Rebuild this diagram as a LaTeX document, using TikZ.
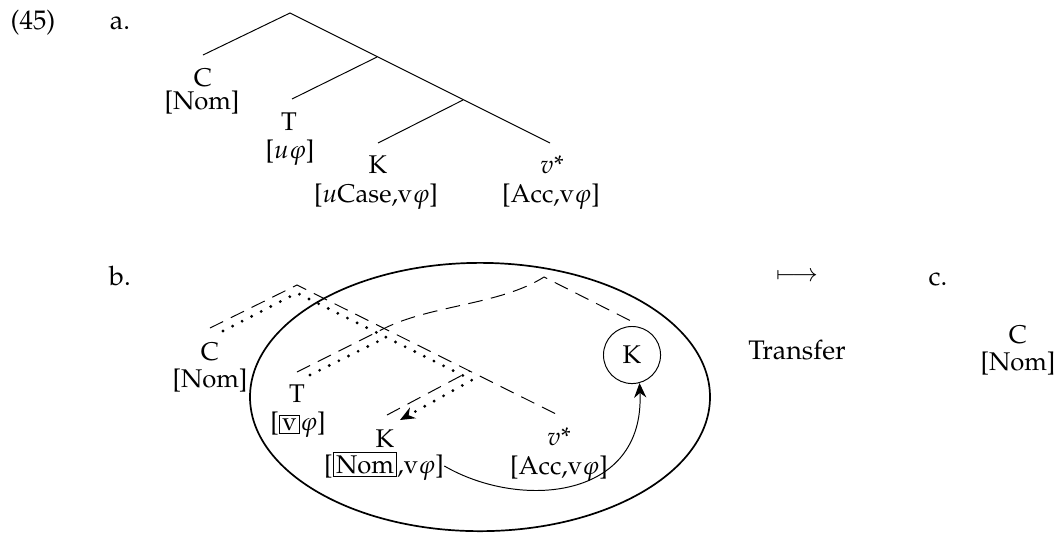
\documentclass[tikz,border=0pt]{standalone}
\usepackage[T1]{fontenc}
\usepackage{mathpazo}
\usetikzlibrary{arrows.meta}

\tikzset{
  lab/.style={anchor=base, inner sep=0pt, font=\fontsize{10.5}{12.6}\selectfont},
  txt/.style={anchor=base, inner sep=0pt, font=\fontsize{11}{13.6}\selectfont},
  moved/.style={dash pattern=on 6pt off 3.5pt},
  agree/.style={line width=1.3pt, line cap=round, dash pattern=on 0pt off 4.4pt},
}

\begin{document}
\begin{tikzpicture}[x=0.41pt,y=-0.41pt]
\useasboundingbox (0,0) rectangle (1057,533);

% example number and sub-labels
\node[txt] (exno) at (33,29) {(45)};
\node[txt] (exa) at (120,29) {a.};
\node[txt] (exb) at (120,285) {b.};
\node[txt] (exc) at (938,285) {c.};

% (a) branch points
\coordinate (aR) at (290,13);
\coordinate (aTP) at (377,57);
\coordinate (aKP) at (463,100);
\coordinate (aCt) at (203,55);
\coordinate (aTt) at (292,99);
\coordinate (aKt) at (378,143);
\coordinate (aVt) at (550,143);

% (a) branches
\draw (aCt) -- (aR) -- (aVt);
\draw (aTt) -- (aTP);
\draw (aKt) -- (aKP);

% (a) leaves
\node[lab] (aC) at (203,86) {C};
\node[lab] (aCf) at (202,109) {[Nom]};
\node[lab] (aT) at (289,130) {T};
\node[lab] (aTf) at (290,158) {[$u\varphi$]};
\node[lab] (aK) at (378,173) {K};
\node[lab] (aKf) at (376,202) {[$u$Case,v$\varphi$]};
\node[lab] (aV) at (552,173) {$v$*};
\node[lab] (aVf) at (551,202) {[Acc,v$\varphi$]};

% (b) the transferred domain
\draw[line width=0.7pt] (480,397) ellipse [x radius=94.3pt, y radius=55pt];

% (b) branch points
\coordinate (bR) at (297,285);
\coordinate (bTP) at (383,329);
\coordinate (bKP) at (470,371);
\coordinate (bNR) at (544,277);
\coordinate (bCt) at (210,328);
\coordinate (bTt) at (297,372);
\coordinate (bKt) at (387,415);
\coordinate (bVt) at (558,415);
\coordinate (bMt) at (633,322);

% (b) dashed branches
\draw[moved] (bCt) -- (bR) -- (bVt);
\draw[moved] (bKt) -- (bKP);
\draw[moved] (bTt) -- (bTP) .. controls (430,305) and (500,305) .. (bNR) -- (bMt);

% (b) agree paths
\draw[agree, -{Stealth[length=6pt,width=5pt]}] (223,331) -- (297,293) -- (472,380) -- (400,420);
\draw[agree] (310,375) -- (385,338);

% (b) leaves
\node[lab] (bC) at (210,360) {C};
\node[lab] (bCf) at (210,387) {[Nom]};
\node[lab] (bT) at (297,402) {T};
\node[lab] (bTf) at (298,430) {[\fboxsep=1pt\fbox{v}$\varphi$]};
\node[lab] (bK) at (385,447) {K};
\node[lab] (bKf) at (384,473) {[\fboxsep=1pt\fbox{Nom},v$\varphi$]};
\node[lab] (bV) at (559,445) {$v$*};
\node[lab] (bVf) at (559,474) {[Acc,v$\varphi$]};
\node[draw, circle, minimum size=23.4pt, inner sep=0pt, font=\fontsize{10.5}{12.6}\selectfont] (bM) at (632,355) {K};

% movement arrow
\draw[-{Stealth[length=6pt,width=5pt]}] (bKf.east) .. controls (520,510) and (645,500) .. (bM.-75);

% transfer
\node (mapsto) at (797,277) {$\longmapsto$};
\node[txt] (trans) at (797,359) {Transfer};

% (c)
\node[lab] (cC) at (1018,343) {C};
\node[lab] (cCf) at (1018,370) {[Nom]};
\end{tikzpicture}
\end{document}
